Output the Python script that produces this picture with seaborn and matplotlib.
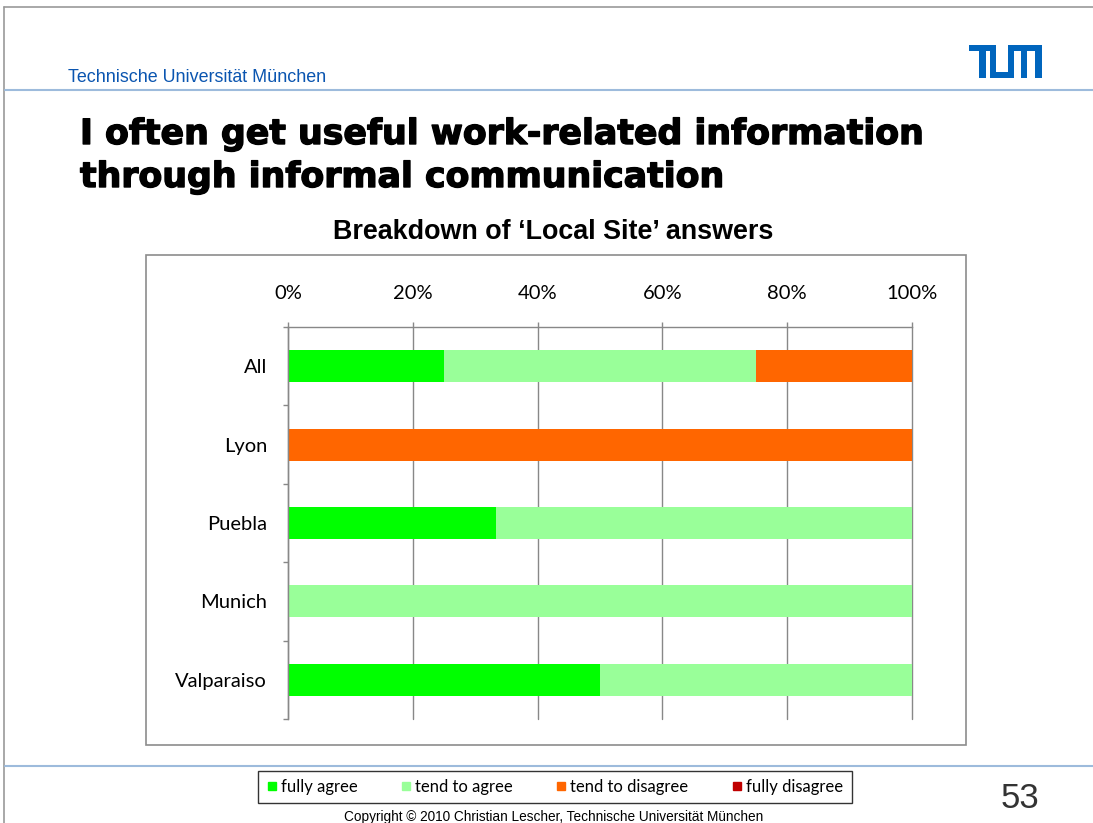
import numpy as np
import seaborn as sns
import matplotlib.pyplot as plt
import matplotlib.patheffects as pe
from matplotlib.patches import Rectangle
from matplotlib.lines import Line2D

sites = ["All", "Lyon", "Puebla", "Munich", "Valparaiso"]
fully_agree = [25, 0, 33.3, 0, 50]
tend_agree = [50, 0, 66.7, 100, 50]
tend_disagree = [25, 100, 0, 0, 0]
fully_disagree = [0, 0, 0, 0, 0]

answers = ["fully agree", "tend to agree", "tend to disagree", "fully disagree"]
colors = ["#00ff00", "#99ff99", "#ff6600", "#c00000"]
ticks = [0, 20, 40, 60, 80, 100]

sns.set_style("white")
plt.rcParams['font.family'] = ['Lato', 'DejaVu Sans']
plt.rcParams['text.color'] = 'black'

W, H = 1093, 823
fig = plt.figure(figsize=(10.93, 8.23), dpi=100)

def fx(px):
    return px / W

def fy(py):
    return 1 - py / H

# slide frame and header
fig.add_artist(Line2D([fx(4), 1], [fy(7), fy(7)], color="#999999", lw=1.2))
fig.add_artist(Line2D([fx(4), fx(4)], [fy(7), 0], color="#999999", lw=1.2))
fig.add_artist(Line2D([fx(5), 1], [fy(90), fy(90)], color="#9dbbdc", lw=1.5))
fig.add_artist(Line2D([fx(5), 1], [fy(766), fy(766)], color="#9dbbdc", lw=1.5))
fig.text(fx(68), fy(78), "Technische Universität München", color="#0a55b0",
         fontsize=12.9, family=['Liberation Sans'], va='center', ha='left')

# TUM logo
blue = "#0065bd"
for x0, x1, y0, y1 in [(969, 996, 45, 51), (979, 986, 45, 78), (990, 996, 45, 78),
                       (990, 1014, 72, 78), (1008, 1014, 45, 78), (1008, 1042, 45, 51),
                       (1021, 1027, 45, 78), (1035, 1042, 45, 78)]:
    fig.add_artist(Rectangle((fx(x0), fy(y1)), (x1 - x0) / W, (y1 - y0) / H, color=blue, lw=0))

heavy = [pe.withStroke(linewidth=1.0, foreground='black')]
fig.text(fx(80), fy(134), "I often get useful work-related information", color='black',
         fontsize=25, fontweight='bold', family=['DejaVu Sans'], va='center', ha='left',
         path_effects=heavy)
fig.text(fx(80), fy(177), "through informal communication", color='black',
         fontsize=25, fontweight='bold', family=['DejaVu Sans'], va='center', ha='left',
         path_effects=heavy)

# chart frame
fig.add_artist(Rectangle((fx(146), fy(745)), (966 - 146) / W, (745 - 255) / H,
                         fill=False, edgecolor="#8c8c8c", lw=1.2))
fig.text(fx(553), fy(232), "Breakdown of \u2018Local Site\u2019 answers", fontsize=19.4,
         fontweight='bold', family=['Liberation Sans'], ha='center', va='center')

ax = fig.add_axes([fx(288), fy(719), (912 - 288) / W, (719 - 327) / H])

segments = [fully_agree, tend_agree, tend_disagree, fully_disagree]
cumulative = np.cumsum(np.array(segments), axis=0)
for values, color in reversed(list(zip(cumulative, colors))):
    sns.barplot(x=values, y=sites, color=color, orient='h', width=0.41,
                saturation=1, linewidth=0, ax=ax)

ax.set_xlim(0, 100)
ax.set_ylim(len(sites) - 0.5, -0.5)
ax.set_xticks(ticks)
ax.set_xticklabels([f"{t}%" for t in ticks])
ax.xaxis.set_ticks_position('top')
ax.tick_params(axis='x', top=True, length=3.8, width=1, color="#888888", pad=14,
               labelsize=14.5, labelcolor='black')
ax.set_yticks(np.arange(-0.5, len(sites), 1), minor=True)
ax.tick_params(axis='y', which='major', length=0, pad=15, labelsize=14.5, labelcolor='black')
ax.tick_params(axis='y', which='minor', left=True, length=3.8, width=1, color="#888888")
ax.grid(axis='x', color="#888888", lw=1)
for gl in ax.get_xgridlines():
    gl.set_clip_on(False)
ax.set_axisbelow(True)
for side in ['bottom', 'right']:
    ax.spines[side].set_visible(False)
for side in ['top', 'left']:
    ax.spines[side].set_color("#888888")
    ax.spines[side].set_linewidth(1)
ax.set_xlabel("")
ax.set_ylabel("")

handles = [Line2D([], [], marker='s', color=c, linestyle='none', markersize=6) for c in colors]
leg = fig.legend(handles, answers, loc='center', bbox_to_anchor=(fx(555), fy(787)), ncol=4,
                 frameon=True, fancybox=False, edgecolor='black', fontsize=12,
                 handlelength=0.6, handletextpad=0.25, columnspacing=2.6, borderpad=0.5)
leg.get_frame().set_linewidth(1)

fig.text(fx(1020), fy(798), "53", fontsize=25, color="#333333", family=['Liberation Sans'],
         ha='center', va='center')
fig.text(fx(554), fy(817), "Copyright \u00a9 2010 Christian Lescher, Technische Universität München",
         fontsize=9.8, family=['Liberation Sans'], ha='center', va='center')

fig.savefig("out.png", dpi=100)
